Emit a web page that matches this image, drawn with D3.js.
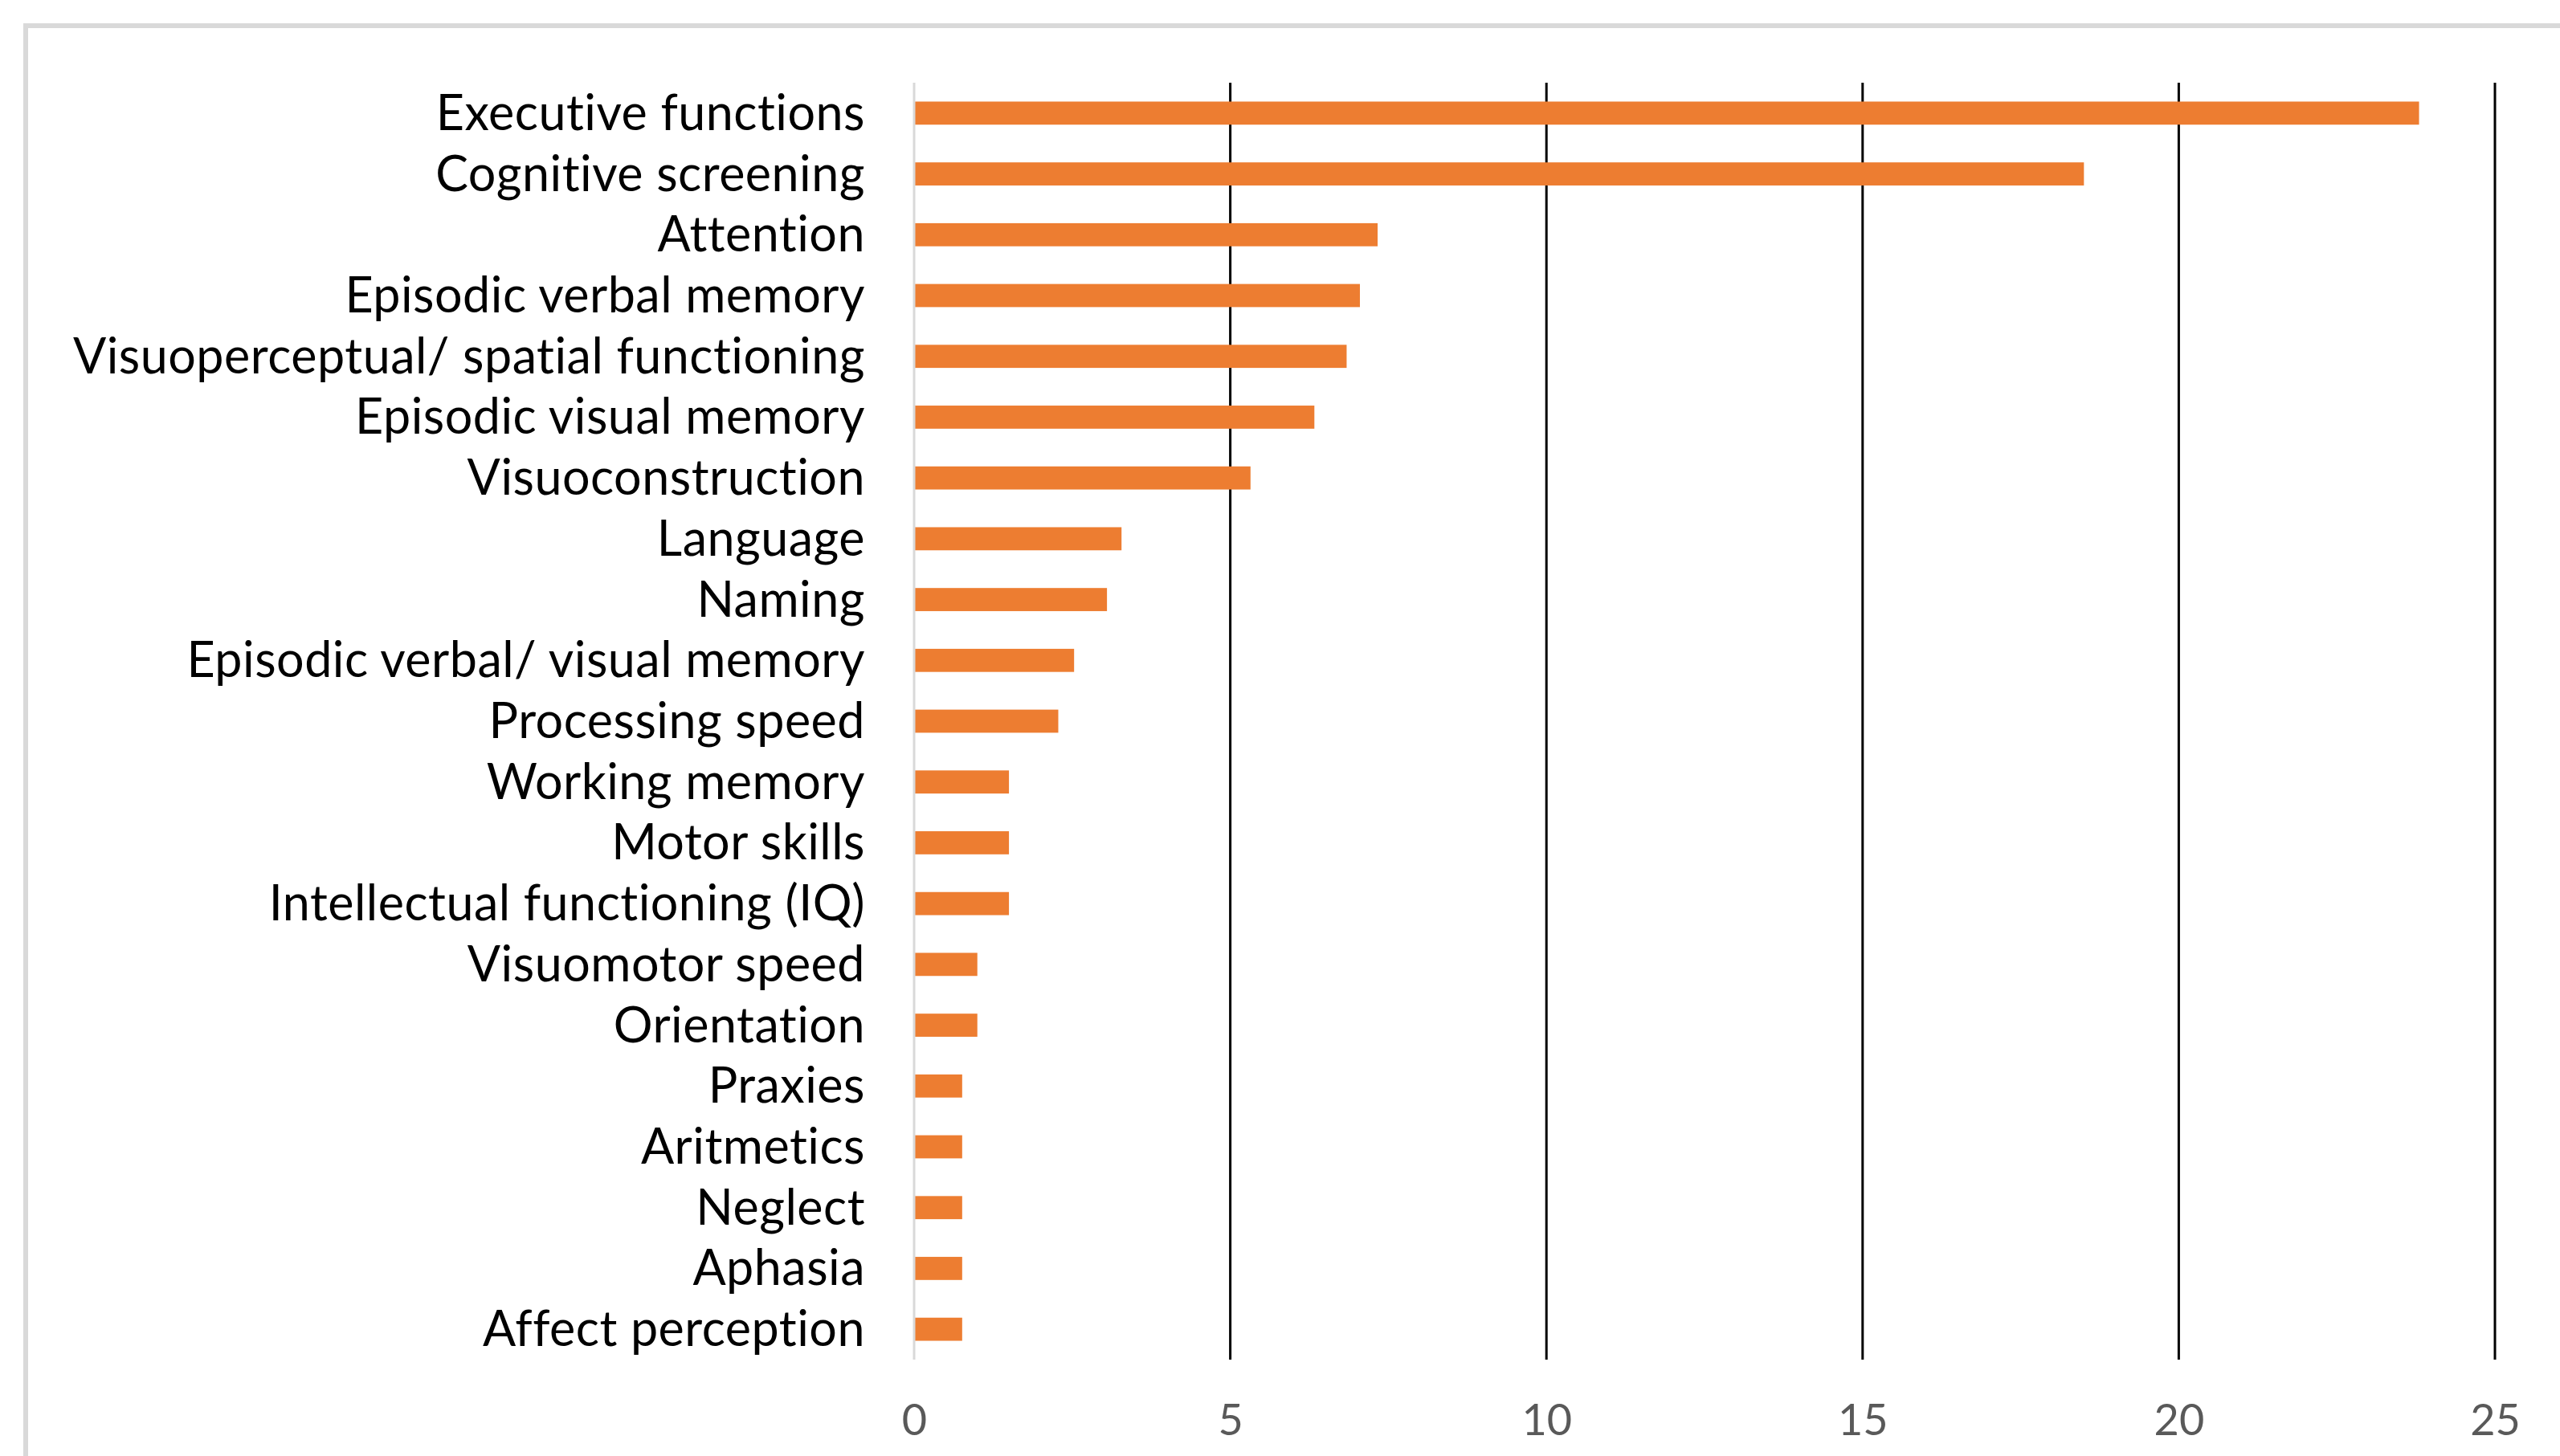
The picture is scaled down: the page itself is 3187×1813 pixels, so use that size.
<!DOCTYPE html>
<html>
<head>
<meta charset="utf-8">
<script src="https://cdn.jsdelivr.net/npm/d3@7"></script>
<style>
  body { margin: 0; background: #fff; }
  text { font-variant-ligatures: none; }
  .cat-label { font-family: Lato, "Open Sans", sans-serif; font-size: 61px; letter-spacing: 0.5px; fill: #000; }
  .tick-label { font-family: Lato, "Open Sans", sans-serif; font-size: 54px; fill: #595959; }
</style>
</head>
<body>
<div id="chart"></div>
<script>
// categorie, dall'alto verso il basso
const categories = [
  'Executive functions', 'Cognitive screening', 'Attention', 'Episodic verbal memory',
  'Visuoperceptual/ spatial functioning', 'Episodic visual memory', 'Visuoconstruction',
  'Language', 'Naming', 'Episodic verbal/ visual memory', 'Processing speed',
  'Working memory', 'Motor skills', 'Intellectual functioning (IQ)', 'Visuomotor speed',
  'Orientation', 'Praxies', 'Aritmetics', 'Neglect', 'Aphasia', 'Affect perception'
];
const values = [
  23.8, 18.5, 7.33, 7.05, 6.84, 6.33, 5.32,
  3.28, 3.05, 2.53, 2.28,
  1.5, 1.5, 1.5, 1.0,
  1.0, 0.76, 0.76, 0.76, 0.76, 0.76
];
const xTicks = [0, 5, 10, 15, 20, 25];

const W = 3187, H = 1813;
const PLOT = { left: 1138, right: 3106, top: 103, bottom: 1693 };
const BAR_COLOR = '#ED7D31';

const svg = d3.select('#chart').append('svg')
  .attr('width', W)
  .attr('height', H);

// cornice grigia (solo sinistra e alto visibili)
svg.append('rect')
  .attr('x', 32).attr('y', 32)
  .attr('width', W + 50).attr('height', H + 50)
  .attr('fill', 'none')
  .attr('stroke', '#d9d9d9')
  .attr('stroke-width', 6);

const x = d3.scaleLinear().domain([0, 25]).range([PLOT.left, PLOT.right]);
const y = d3.scaleBand().domain(categories).range([PLOT.top, PLOT.bottom]).paddingInner(0.62).paddingOuter(0.31);

// griglia verticale
svg.selectAll('.grid')
  .data(xTicks.filter(d => d > 0))
  .enter()
  .append('line')
  .attr('class', 'grid')
  .attr('x1', d => x(d)).attr('x2', d => x(d))
  .attr('y1', PLOT.top).attr('y2', PLOT.bottom)
  .attr('stroke', '#000')
  .attr('stroke-width', 3);

// barre
svg.selectAll('.bar')
  .data(values)
  .enter()
  .append('rect')
  .attr('class', 'bar')
  .attr('x', x(0))
  .attr('y', (d, i) => y(categories[i]))
  .attr('width', d => x(d) - x(0))
  .attr('height', y.bandwidth())
  .attr('fill', BAR_COLOR);

// asse dello zero
svg.append('line')
  .attr('x1', x(0)).attr('x2', x(0))
  .attr('y1', PLOT.top).attr('y2', PLOT.bottom)
  .attr('stroke', '#d9d9d9')
  .attr('stroke-width', 3);

// etichette categorie
svg.selectAll('.cat-label')
  .data(categories)
  .enter()
  .append('text')
  .attr('class', 'cat-label')
  .attr('x', x(0) - 61)
  .attr('y', d => y(d) + y.bandwidth() / 2 + 21)
  .attr('text-anchor', 'end')
  .text(d => d);

// etichette asse x
const xAxis = svg.append('g')
  .attr('transform', `translate(0,${PLOT.bottom})`)
  .call(d3.axisBottom(x).tickValues(xTicks).tickSize(0).tickPadding(94));
xAxis.select('.domain').remove();
xAxis.selectAll('text')
  .attr('class', 'tick-label')
  .attr('fill', null)
  .attr('dy', null);
xAxis.attr('font-family', null).attr('font-size', null);
</script>
</body>
</html>
